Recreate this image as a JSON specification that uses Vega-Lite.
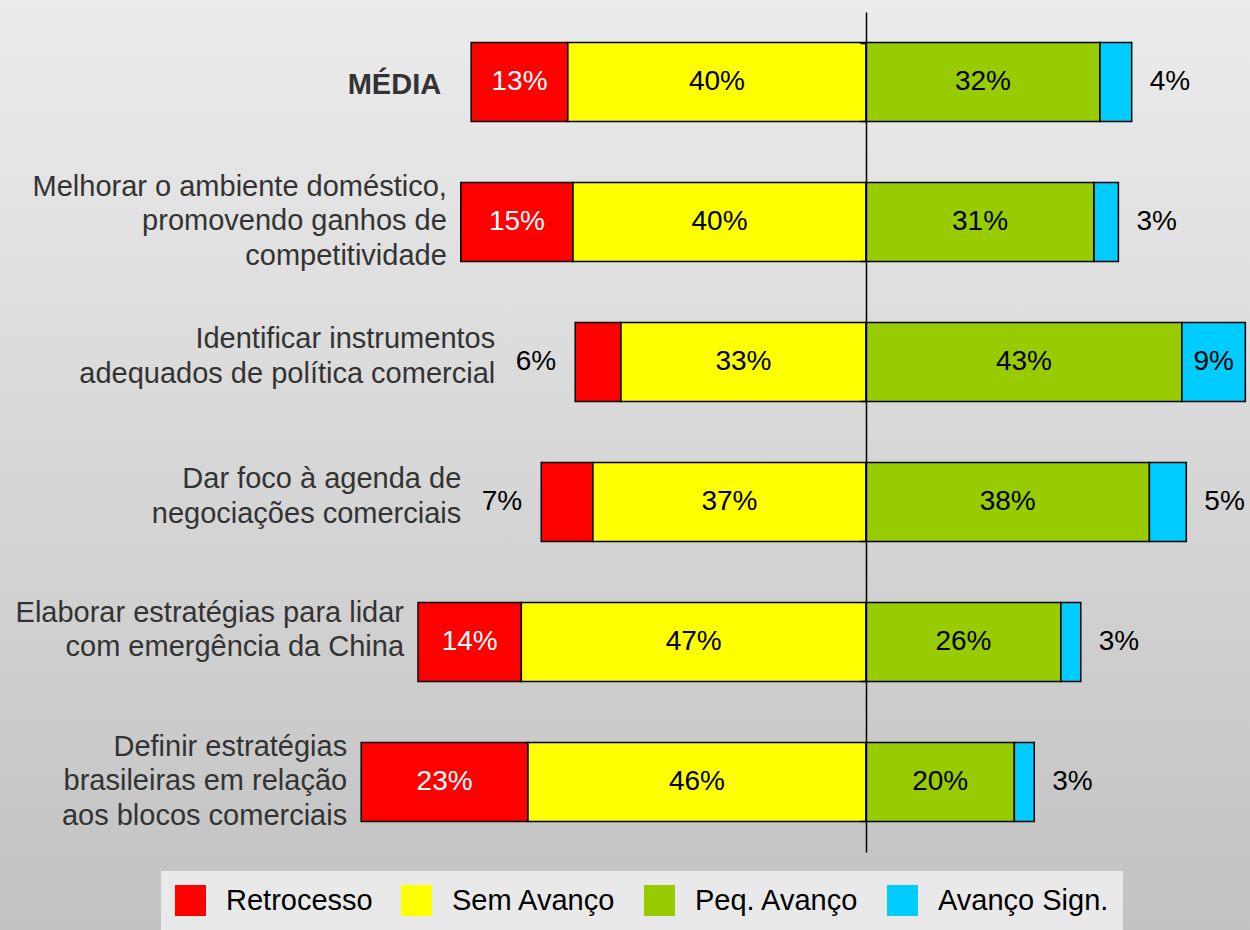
{
  "$schema": "https://vega.github.io/schema/vega-lite/v6.json",
  "width": 1250,
  "height": 930,
  "autosize": {"type": "fit", "contains": "padding"},
  "padding": 0,
  "background": "#d6d6d6",
  "view": {
    "stroke": null,
    "fill": {
      "gradient": "linear",
      "x1": 0, "y1": 0, "x2": 0, "y2": 1,
      "stops": [
        {"offset": 0, "color": "#ececec"},
        {"offset": 1, "color": "#c2c2c2"}
      ]
    }
  },
  "config": {
    "font": "Liberation Sans",
    "text": {"font": "Liberation Sans"},
    "legend": {
      "orient": "none",
      "legendX": 161,
      "legendY": 871,
      "direction": "horizontal",
      "fillColor": "#e9e9e9",
      "padding": 14,
      "symbolType": "square",
      "symbolSize": 961,
      "symbolStrokeWidth": 0,
      "symbolOpacity": 1,
      "labelFont": "Liberation Sans",
      "labelFontSize": 29,
      "labelColor": "#000000",
      "labelOffset": 20,
      "columnPadding": 28,
      "labelLimit": 400
    }
  },
  "data": {
    "values": [
      {"cat": "MÉDIA", "resp": "Retrocesso", "pct": 13.1},
      {"cat": "MÉDIA", "resp": "Sem Avanço", "pct": 40.4},
      {"cat": "MÉDIA", "resp": "Peq. Avanço", "pct": 31.7},
      {"cat": "MÉDIA", "resp": "Avanço Sign.", "pct": 4.3},
      {"cat": "Melhorar o ambiente doméstico,\npromovendo ganhos de\ncompetitividade", "resp": "Retrocesso", "pct": 15.2},
      {"cat": "Melhorar o ambiente doméstico,\npromovendo ganhos de\ncompetitividade", "resp": "Sem Avanço", "pct": 39.7},
      {"cat": "Melhorar o ambiente doméstico,\npromovendo ganhos de\ncompetitividade", "resp": "Peq. Avanço", "pct": 30.9},
      {"cat": "Melhorar o ambiente doméstico,\npromovendo ganhos de\ncompetitividade", "resp": "Avanço Sign.", "pct": 3.3},
      {"cat": "Identificar instrumentos\nadequados de política comercial", "resp": "Retrocesso", "pct": 6.2},
      {"cat": "Identificar instrumentos\nadequados de política comercial", "resp": "Sem Avanço", "pct": 33.2},
      {"cat": "Identificar instrumentos\nadequados de política comercial", "resp": "Peq. Avanço", "pct": 42.8},
      {"cat": "Identificar instrumentos\nadequados de política comercial", "resp": "Avanço Sign.", "pct": 8.6},
      {"cat": "Dar foco à agenda de\nnegociações comerciais", "resp": "Retrocesso", "pct": 7.0},
      {"cat": "Dar foco à agenda de\nnegociações comerciais", "resp": "Sem Avanço", "pct": 37.0},
      {"cat": "Dar foco à agenda de\nnegociações comerciais", "resp": "Peq. Avanço", "pct": 38.4},
      {"cat": "Dar foco à agenda de\nnegociações comerciais", "resp": "Avanço Sign.", "pct": 5.0},
      {"cat": "Elaborar estratégias para lidar\ncom emergência da China", "resp": "Retrocesso", "pct": 14.0},
      {"cat": "Elaborar estratégias para lidar\ncom emergência da China", "resp": "Sem Avanço", "pct": 46.7},
      {"cat": "Elaborar estratégias para lidar\ncom emergência da China", "resp": "Peq. Avanço", "pct": 26.4},
      {"cat": "Elaborar estratégias para lidar\ncom emergência da China", "resp": "Avanço Sign.", "pct": 2.7},
      {"cat": "Definir estratégias\nbrasileiras em relação\naos blocos comerciais", "resp": "Retrocesso", "pct": 22.6},
      {"cat": "Definir estratégias\nbrasileiras em relação\naos blocos comerciais", "resp": "Sem Avanço", "pct": 45.8},
      {"cat": "Definir estratégias\nbrasileiras em relação\naos blocos comerciais", "resp": "Peq. Avanço", "pct": 20.1},
      {"cat": "Definir estratégias\nbrasileiras em relação\naos blocos comerciais", "resp": "Avanço Sign.", "pct": 2.7}
    ]
  },
  "transform": [
    {"calculate": "(datum.resp == 'Retrocesso' || datum.resp == 'Sem Avanço') ? -datum.pct : datum.pct", "as": "v"},
    {"stack": "v", "groupby": ["cat"], "sort": [{"field": "resp", "order": "descending"}], "as": ["x0", "x1"], "offset": "zero"},
    {"calculate": "min(datum.x0, datum.x1)", "as": "lo"},
    {"calculate": "max(datum.x0, datum.x1)", "as": "hi"},
    {"calculate": "(datum.x0 + datum.x1) / 2", "as": "mid"},
    {"calculate": "format(datum.pct, '.0f') + '%'", "as": "lab"},
    {"calculate": "length(split(datum.cat, '\\n'))", "as": "nlines"}
  ],
  "encoding": {
    "y": {
      "field": "cat",
      "type": "nominal",
      "sort": [
        "MÉDIA",
        "Melhorar o ambiente doméstico,\npromovendo ganhos de\ncompetitividade",
        "Identificar instrumentos\nadequados de política comercial",
        "Dar foco à agenda de\nnegociações comerciais",
        "Elaborar estratégias para lidar\ncom emergência da China",
        "Definir estratégias\nbrasileiras em relação\naos blocos comerciais"
      ],
      "scale": {"range": [12, 852], "paddingInner": 0.436, "paddingOuter": 0.218},
      "axis": {
        "title": null,
        "labels": false,
        "grid": false,
        "ticks": true,
        "tickBand": "extent",
        "tickSize": 6,
        "tickWidth": 1.5,
        "tickColor": "#000000",
        "domainColor": "#000000",
        "domainWidth": 1.5,
        "offset": -866,
        "zindex": 1
      }
    }
  },
  "layer": [
    {
      "mark": {"type": "bar", "stroke": "#000000", "strokeWidth": 1.5},
      "encoding": {
        "x": {"field": "x0", "type": "quantitative", "scale": {"domain": [-117.34, 52.03], "nice": false, "zero": false}, "axis": null},
        "x2": {"field": "x1"},
        "color": {
          "field": "resp",
          "type": "nominal",
          "scale": {
            "domain": ["Retrocesso", "Sem Avanço", "Peq. Avanço", "Avanço Sign."],
            "range": ["#ff0000", "#ffff00", "#99cc00", "#00ccff"]
          },
          "legend": {"title": null}
        }
      }
    },
    {
      "transform": [{"filter": "datum.pct >= 8"}],
      "mark": {"type": "text", "fontSize": 28, "align": "center", "baseline": "middle"},
      "encoding": {
        "x": {"field": "mid", "type": "quantitative", "scale": {"domain": [-117.34, 52.03], "nice": false, "zero": false}, "axis": null},
        "text": {"field": "lab"},
        "color": {"condition": {"test": "datum.resp == 'Retrocesso'", "value": "#ffffff"}, "value": "#000000"}
      }
    },
    {
      "transform": [{"filter": "datum.resp == 'Retrocesso' && datum.pct < 8"}],
      "mark": {"type": "text", "fontSize": 28, "align": "right", "baseline": "middle", "dx": -19, "color": "#000000"},
      "encoding": {
        "x": {"field": "lo", "type": "quantitative", "scale": {"domain": [-117.34, 52.03], "nice": false, "zero": false}, "axis": null},
        "text": {"field": "lab"}
      }
    },
    {
      "transform": [{"filter": "datum.resp == 'Avanço Sign.' && datum.pct < 8"}],
      "mark": {"type": "text", "fontSize": 28, "align": "left", "baseline": "middle", "dx": 18, "color": "#000000"},
      "encoding": {
        "x": {"field": "hi", "type": "quantitative", "scale": {"domain": [-117.34, 52.03], "nice": false, "zero": false}, "axis": null},
        "text": {"field": "lab"}
      }
    },
    {
      "transform": [{"filter": "datum.resp == 'Retrocesso' && datum.cat == 'MÉDIA'"}],
      "mark": {"type": "text", "fontSize": 29, "fontWeight": "bold", "align": "right", "baseline": "middle", "dx": -30, "dy": 3, "color": "#333333"},
      "encoding": {
        "x": {"field": "lo", "type": "quantitative", "scale": {"domain": [-117.34, 52.03], "nice": false, "zero": false}, "axis": null},
        "text": {"field": "cat"}
      }
    },
    {
      "transform": [{"filter": "datum.resp == 'Retrocesso' && datum.cat != 'MÉDIA' && datum.pct >= 8 && datum.nlines == 3"}],
      "mark": {"type": "text", "fontSize": 29, "align": "right", "baseline": "middle", "dx": -14, "dy": -35.5, "color": "#333333", "lineBreak": "\n", "lineHeight": 34.5},
      "encoding": {
        "x": {"field": "lo", "type": "quantitative", "scale": {"domain": [-117.34, 52.03], "nice": false, "zero": false}, "axis": null},
        "text": {"field": "cat"}
      }
    },
    {
      "transform": [{"filter": "datum.resp == 'Retrocesso' && datum.cat != 'MÉDIA' && datum.pct >= 8 && datum.nlines == 2"}],
      "mark": {"type": "text", "fontSize": 29, "align": "right", "baseline": "middle", "dx": -14, "dy": -29.5, "color": "#333333", "lineBreak": "\n", "lineHeight": 34.5},
      "encoding": {
        "x": {"field": "lo", "type": "quantitative", "scale": {"domain": [-117.34, 52.03], "nice": false, "zero": false}, "axis": null},
        "text": {"field": "cat"}
      }
    },
    {
      "transform": [{"filter": "datum.resp == 'Retrocesso' && datum.cat != 'MÉDIA' && datum.pct < 8"}],
      "mark": {"type": "text", "fontSize": 29, "align": "right", "baseline": "middle", "dx": -80, "dy": -23, "color": "#333333", "lineBreak": "\n", "lineHeight": 34.5},
      "encoding": {
        "x": {"field": "lo", "type": "quantitative", "scale": {"domain": [-117.34, 52.03], "nice": false, "zero": false}, "axis": null},
        "text": {"field": "cat"}
      }
    }
  ]
}
